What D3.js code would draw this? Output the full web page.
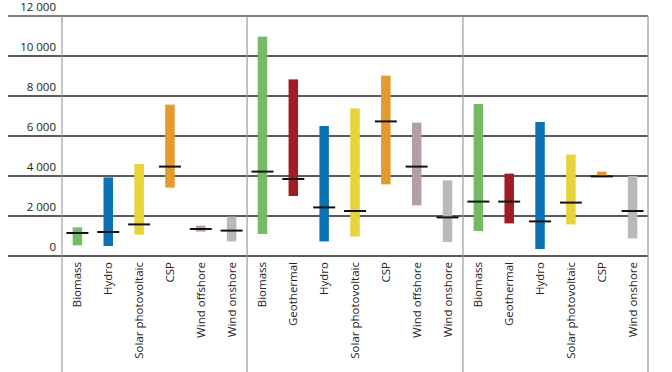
<!DOCTYPE html>
<html>
<head>
<meta charset="utf-8">
<script src="https://cdn.jsdelivr.net/npm/d3@7"></script>
<style>
  body { margin: 0; background: #fff; }
  text { font-family: "Open Sans", sans-serif; fill: #222; }
</style>
</head>
<body>
<div id="chart"></div>
<script>
// one entry per bar, left to right, three groups
const groupSizes = [6, 7, 6];
const technologies = [
  "Biomass", "Hydro", "Solar photovoltaic", "CSP", "Wind offshore", "Wind onshore",
  "Biomass", "Geothermal", "Hydro", "Solar photovoltaic", "CSP", "Wind offshore", "Wind onshore",
  "Biomass", "Geothermal", "Hydro", "Solar photovoltaic", "CSP", "Wind onshore"
];
const lowValues = [530, 500, 1070, 3420, 1220, 730, 1100, 3000, 730, 970, 3580, 2530, 700, 1250, 1630, 350, 1580, 3950, 880];
const highValues = [1430, 3930, 4600, 7570, 1520, 1970, 10970, 8830, 6500, 7380, 9020, 6670, 3780, 7600, 4120, 6700, 5070, 4220, 4000];
const medianValues = [1150, 1200, 1580, 4470, 1350, 1270, 4220, 3850, 2430, 2250, 6730, 4470, 1930, 2720, 2720, 1730, 2670, 3980, 2250];
const yTicks = [0, 2000, 4000, 6000, 8000, 10000, 12000];

const colors = {
  "Biomass": "#76bb63",
  "Geothermal": "#9e1c22",
  "Hydro": "#0b73b4",
  "Solar photovoltaic": "#e6d43a",
  "CSP": "#e39b30",
  "Wind offshore": "#b39fa4",
  "Wind onshore": "#b9b9b9"
};

const W = 672, H = 372;
const m = { left: 62, right: 648, top: 16, bottom: 256 };

const svg = d3.select("#chart").append("svg")
  .attr("width", W)
  .attr("height", H);

const idx = d3.range(technologies.length);
const x = d3.scaleBand().domain(idx).range([m.left, m.right]);
const y = d3.scaleLinear().domain([0, 12000]).range([m.bottom, m.top]);

// horizontal grid
svg.selectAll(".grid")
  .data(yTicks)
  .enter()
  .append("line")
  .attr("x1", 8)
  .attr("x2", m.right)
  .attr("y1", (d) => y(d))
  .attr("y2", (d) => y(d))
  .attr("stroke", (d) => (d === 12000 ? "#555" : "#222"))
  .attr("stroke-width", 1.4);

svg.selectAll(".ylab")
  .data(yTicks)
  .enter()
  .append("text")
  .attr("x", 56)
  .attr("y", (d) => y(d) - 5)
  .attr("text-anchor", "end")
  .attr("font-size", 11.5)
  .text((d) => d3.format(",")(d).replace(",", " "));

// group dividers
let acc = 0;
const dividers = [0];
groupSizes.forEach((n) => { acc += n; dividers.push(acc); });
svg.selectAll(".div")
  .data(dividers)
  .enter()
  .append("line")
  .attr("x1", (d) => (d < idx.length ? x(d) : m.right))
  .attr("x2", (d) => (d < idx.length ? x(d) : m.right))
  .attr("y1", m.top)
  .attr("y2", H)
  .attr("stroke", "#999")
  .attr("stroke-width", 1.2);

const bw = 9.5, mw = 22;

svg.selectAll(".bar")
  .data(idx)
  .enter()
  .append("rect")
  .attr("x", (i) => x(i) + x.bandwidth() / 2 - bw / 2)
  .attr("y", (i) => y(highValues[i]))
  .attr("width", bw)
  .attr("height", (i) => y(lowValues[i]) - y(highValues[i]))
  .attr("fill", (i) => colors[technologies[i]]);

svg.selectAll(".med")
  .data(idx)
  .enter()
  .append("line")
  .attr("x1", (i) => x(i) + x.bandwidth() / 2 - mw / 2)
  .attr("x2", (i) => x(i) + x.bandwidth() / 2 + mw / 2)
  .attr("y1", (i) => y(medianValues[i]))
  .attr("y2", (i) => y(medianValues[i]))
  .attr("stroke", "#111")
  .attr("stroke-width", 2);

svg.selectAll(".xlab")
  .data(idx)
  .enter()
  .append("text")
  .attr("transform", (i) => `translate(${x(i) + x.bandwidth() / 2 + 4},262) rotate(-90)`)
  .attr("text-anchor", "end")
  .attr("font-size", 11.5)
  .text((i) => technologies[i]);
</script>
</body>
</html>
